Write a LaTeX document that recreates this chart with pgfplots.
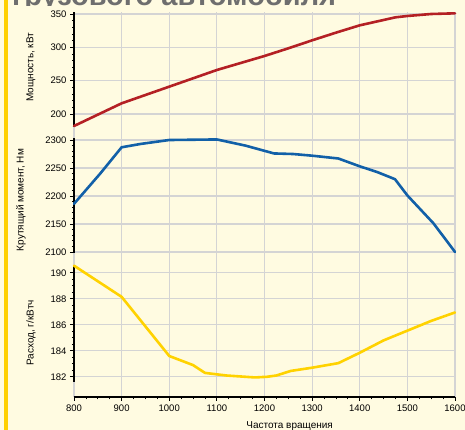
\documentclass[border=0pt]{standalone}
\usepackage{pgfplots}
\pgfplotsset{compat=1.18}
\usepackage{fontspec}
\setmainfont{Liberation Sans}
\definecolor{bg}{RGB}{255,251,225}
\definecolor{barY}{RGB}{255,208,0}
\definecolor{titlegray}{RGB}{110,110,110}
\definecolor{gridc}{RGB}{212,212,212}
\definecolor{cRed}{RGB}{180,32,36}
\definecolor{cBlue}{RGB}{18,96,168}
\definecolor{cYel}{RGB}{255,210,0}
\pgfplotsset{
  panel/.style={
    anchor=south west, scale only axis, width=381pt,
    xmin=800, xmax=1600, clip=false,
    axis y line=left, axis x line=none,
    y axis line style={-, line width=1.5pt, black},
    ytick align=outside,
    major tick length=4pt, minor tick length=2pt,
    tick style={black, line width=0.8pt},
    ymajorgrids, grid style={gridc, line width=1.1pt},
    /pgf/number format/assume math mode=true,
    /pgf/number format/1000 sep={},
    ticklabel style={font=\fontsize{9.5}{11}\selectfont},
    label style={font=\fontsize{10}{11}\selectfont},
  },
  curve/.style={line width=2.6pt, line join=round, line cap=round},
}
\begin{document}
\begin{tikzpicture}
\useasboundingbox (0pt,0pt) rectangle (465pt,430pt);
\fill[bg] (0pt,0pt) rectangle (465pt,430pt);
\fill[barY] (4pt,0pt) rectangle (7.5pt,430pt);
\begin{scope}
\clip (0pt,424pt) rectangle (465pt,430pt);
\node[anchor=base west, inner sep=0, font=\fontsize{29}{31}\selectfont\bfseries, text=titlegray] at (12pt,424.5pt) {грузового автомобиля};
\end{scope}

% background axis: x axis and vertical grid
\begin{axis}[
  at={(74pt,33pt)}, anchor=south west, scale only axis, width=381pt, height=385pt,
  xmin=800, xmax=1600, ymin=0, ymax=1,
  axis x line=bottom, axis y line=none,
  x axis line style={-, line width=1.5pt, black},
  xtick={800,900,...,1600}, minor x tick num=3,
  xtick align=outside,
  major tick length=4pt, minor tick length=2.5pt,
  tick style={black, line width=0.8pt},
  xmajorgrids, grid style={gridc, line width=1.1pt},
  /pgf/number format/assume math mode=true,
  /pgf/number format/1000 sep={},
  ticklabel style={font=\fontsize{9.5}{11}\selectfont},
  xlabel={Частота вращения},
  xlabel style={font=\fontsize{10}{11}\selectfont, at={(axis description cs:0.566,0)}, anchor=north, yshift=-21.5pt},
]
\addplot[draw=none] coordinates {(800,0) (1600,1)};
\end{axis}

% power
\begin{axis}[panel, at={(74pt,303pt)}, height=115pt,
  ymin=180.5, ymax=353, ytick={200,250,300,350}, minor y tick num=4,
  ylabel={Мощность, кВт},
  ylabel style={at={(axis description cs:-0.113,0.52)}, anchor=center},
]
\addplot[curve, cRed] coordinates {
(800,182) (900,216) (1000,241) (1100,266) (1200,287) (1250,298.5) (1300,310.5)
(1350,322) (1400,333) (1475,345) (1500,347) (1550,350) (1600,351)};
\end{axis}

% torque
\begin{axis}[panel, at={(74pt,177pt)}, height=115pt,
  ymin=2098.2, ymax=2303.6, ytick={2100,2150,2200,2250,2300}, minor y tick num=4,
  ylabel={Крутящий момент, Нм},
  ylabel style={at={(axis description cs:-0.139,0.46)}, anchor=center},
]
\addplot[curve, cBlue] coordinates {
(800,2186) (855,2240) (900,2287) (940,2293) (1000,2300) (1100,2301) (1160,2290)
(1220,2276) (1260,2275) (1300,2272) (1355,2267) (1400,2253) (1436,2243)
(1474,2230) (1500,2201) (1555,2151) (1600,2100)};
\end{axis}

% consumption
\begin{axis}[panel, at={(74pt,48pt)}, height=117pt,
  ymin=181.6, ymax=190.6, ytick={182,184,186,188,190}, minor y tick num=3,
  ylabel={Расход, г/кВтч},
  ylabel style={at={(axis description cs:-0.113,0.42)}, anchor=center},
]
\addplot[curve, cYel] coordinates {
(800,190.55) (900,188.15) (1000,183.6) (1050,182.9) (1075,182.3) (1120,182.1)
(1180,181.95) (1205,182.0) (1225,182.1) (1255,182.45) (1300,182.7) (1355,183.05)
(1400,183.85) (1450,184.8) (1500,185.55) (1550,186.3) (1600,186.95)};
\end{axis}
\end{tikzpicture}
\end{document}
